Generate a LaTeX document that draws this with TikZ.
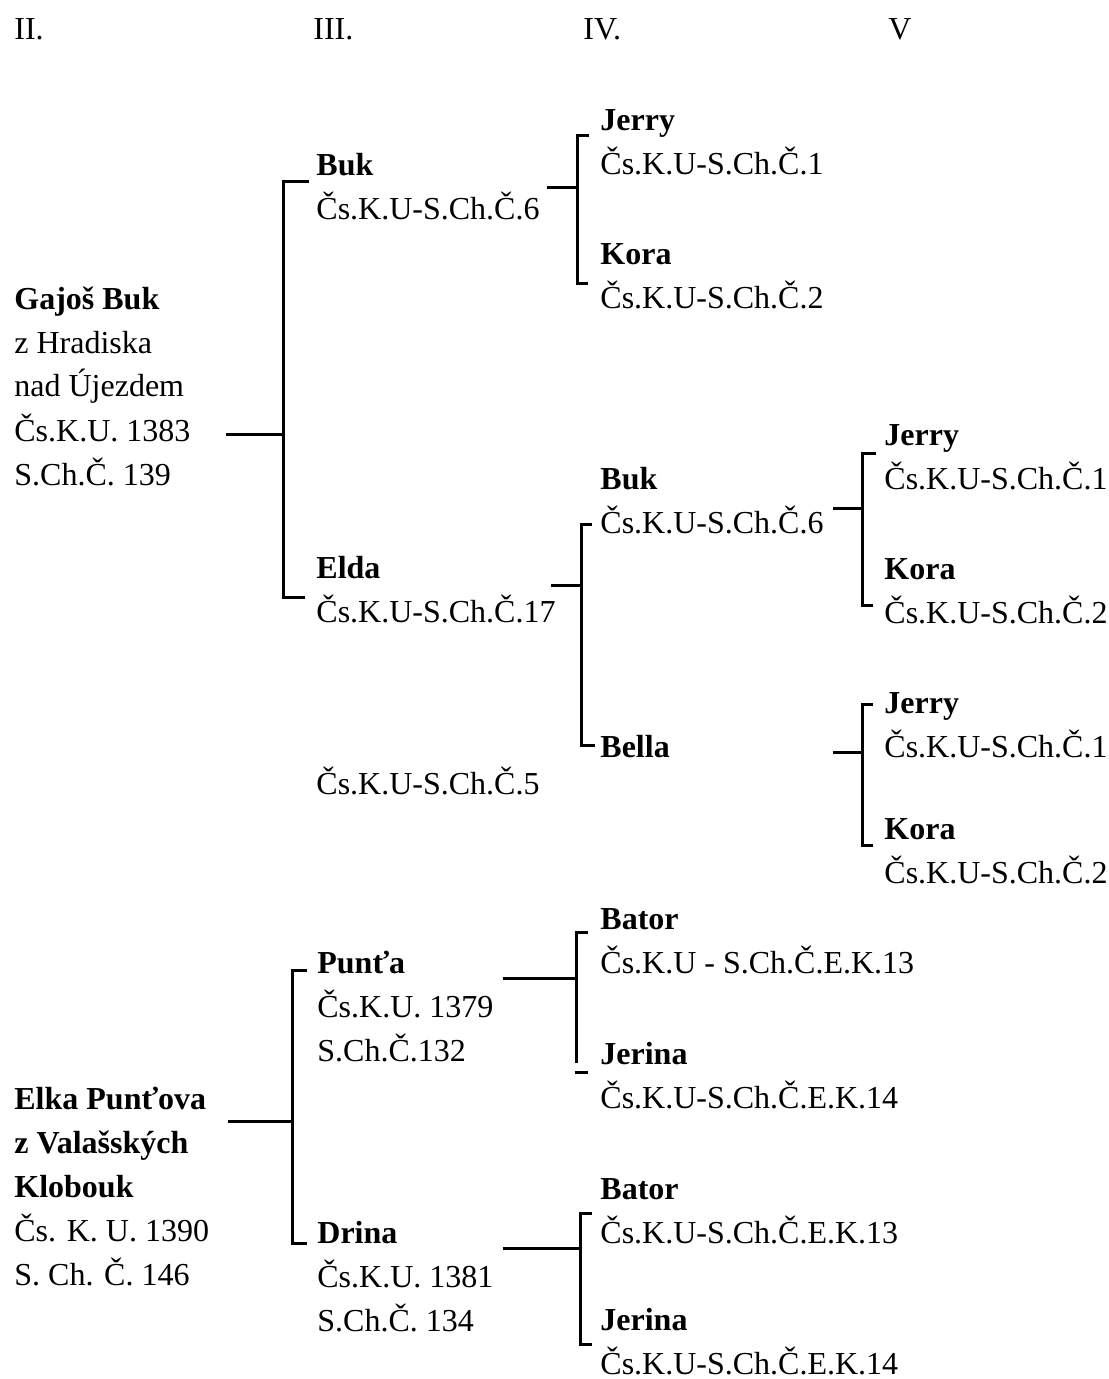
\documentclass[tikz,border=0pt]{standalone}
\usepackage{fontspec}
\setmainfont{Liberation Serif}
\usepackage{tikz}

\begin{document}
\begin{tikzpicture}[x=0.5pt, y=-0.5pt,
    txt/.style={anchor=base west, inner sep=0pt, align=left, font=\fontsize{16}{22}\selectfont},
    brk/.style={black, line width=1.5pt}]
    \useasboundingbox (0,0) rectangle (1108,1379);

    % column headers
    \node[txt] (hII)  at (14,40)  {II.};
    \node[txt] (hIII) at (313,40) {III.};
    \node[txt] (hIV)  at (583,40) {IV.};
    \node[txt] (hV)   at (888,40) {V};

    % column II (positions are the baseline of the last line)
    \node[txt] (gajos) at (14,485) {\textbf{Gajoš Buk}\\z Hradiska\\nad Újezdem\\Čs.K.U. 1383\\S.Ch.Č. 139};
    \node[txt] (elka) at (14,1285) {\textbf{Elka Punťova}\\\textbf{z Valašských}\\\textbf{Klobouk}\\Čs. K. U. 1390\\S. Ch. Č. 146};

    % column III
    \node[txt] (buk)   at (316,220)  {\textbf{Buk}\\Čs.K.U-S.Ch.Č.6};
    \node[txt] (elda)  at (316,622)  {\textbf{Elda}\\Čs.K.U-S.Ch.Č.17};
    \node[txt] (csv)   at (316,794)  {Čs.K.U-S.Ch.Č.5};
    \node[txt] (punta) at (317,1061) {\textbf{Punťa}\\Čs.K.U. 1379\\S.Ch.Č.132};
    \node[txt] (drina) at (317,1331) {\textbf{Drina}\\Čs.K.U. 1381\\S.Ch.Č. 134};

    % column IV
    \node[txt] (jerryA)  at (600,175)  {\textbf{Jerry}\\Čs.K.U-S.Ch.Č.1};
    \node[txt] (koraA)   at (600,309)  {\textbf{Kora}\\Čs.K.U-S.Ch.Č.2};
    \node[txt] (bukB)    at (600,533)  {\textbf{Buk}\\Čs.K.U-S.Ch.Č.6};
    \node[txt] (bella)   at (600,757)  {\textbf{Bella}};
    \node[txt] (batorA)  at (600,973)  {\textbf{Bator}\\Čs.K.U - S.Ch.Č.E.K.13};
    \node[txt] (jerinaA) at (600,1108) {\textbf{Jerina}\\Čs.K.U-S.Ch.Č.E.K.14};
    \node[txt] (batorB)  at (600,1243) {\textbf{Bator}\\Čs.K.U-S.Ch.Č.E.K.13};
    \node[txt] (jerinaB) at (600,1374) {\textbf{Jerina}\\Čs.K.U-S.Ch.Č.E.K.14};

    % column V
    \node[txt] (jerryB) at (884,489) {\textbf{Jerry}\\Čs.K.U-S.Ch.Č.1};
    \node[txt] (koraB)  at (884,623) {\textbf{Kora}\\Čs.K.U-S.Ch.Č.2};
    \node[txt] (jerryC) at (884,757) {\textbf{Jerry}\\Čs.K.U-S.Ch.Č.1};
    \node[txt] (koraC)  at (884,883) {\textbf{Kora}\\Čs.K.U-S.Ch.Č.2};

    % brackets
    \coordinate (gS) at (226,434);  \coordinate (gM) at (283,434);
    \coordinate (gTt) at (309,182); \coordinate (gT) at (283,182);
    \coordinate (gB) at (283,597);  \coordinate (gBt) at (305,597);
    \draw[brk] (gS) -- (gM);
    \draw[brk] (gTt) -- (gT) -- (gB) -- (gBt);

    \coordinate (bS) at (547,188);  \coordinate (bM) at (577,188);
    \coordinate (bTt) at (589,136); \coordinate (bT) at (577,136);
    \coordinate (bB) at (577,284);  \coordinate (bBt) at (588,284);
    \draw[brk] (bS) -- (bM);
    \draw[brk] (bTt) -- (bT) -- (bB) -- (bBt);

    \coordinate (eS) at (551,585);  \coordinate (eM) at (581,585);
    \coordinate (eTt) at (592,524); \coordinate (eT) at (581,524);
    \coordinate (eB) at (581,745);  \coordinate (eBt) at (595,745);
    \draw[brk] (eS) -- (eM);
    \draw[brk] (eTt) -- (eT) -- (eB) -- (eBt);

    \coordinate (kS) at (833,508);  \coordinate (kM) at (862,508);
    \coordinate (kTt) at (876,453); \coordinate (kT) at (862,453);
    \coordinate (kB) at (862,605);  \coordinate (kBt) at (873,605);
    \draw[brk] (kS) -- (kM);
    \draw[brk] (kTt) -- (kT) -- (kB) -- (kBt);

    \coordinate (lS) at (833,752);  \coordinate (lM) at (862,752);
    \coordinate (lTt) at (873,704); \coordinate (lT) at (862,704);
    \coordinate (lB) at (862,845);  \coordinate (lBt) at (873,845);
    \draw[brk] (lS) -- (lM);
    \draw[brk] (lTt) -- (lT) -- (lB) -- (lBt);

    \coordinate (pS) at (228,1121); \coordinate (pM) at (292,1121);
    \coordinate (pTt) at (307,970); \coordinate (pT) at (292,970);
    \coordinate (pB) at (292,1243); \coordinate (pBt) at (307,1243);
    \draw[brk] (pS) -- (pM);
    \draw[brk] (pTt) -- (pT) -- (pB) -- (pBt);

    \coordinate (uS) at (503,978);  \coordinate (uM) at (576,978);
    \coordinate (uTt) at (588,932); \coordinate (uT) at (576,932);
    \coordinate (uB) at (576,1063);
    \coordinate (uX) at (575,1072); \coordinate (uXt) at (588,1072);
    \draw[brk] (uS) -- (uM);
    \draw[brk] (uTt) -- (uT) -- (uB);
    \draw[brk] (uX) -- (uXt);

    \coordinate (dS) at (503,1248); \coordinate (dM) at (580,1248);
    \coordinate (dTt) at (592,1213); \coordinate (dT) at (580,1213);
    \coordinate (dB) at (580,1344); \coordinate (dBt) at (592,1344);
    \draw[brk] (dS) -- (dM);
    \draw[brk] (dTt) -- (dT) -- (dB) -- (dBt);
\end{tikzpicture}
\end{document}
